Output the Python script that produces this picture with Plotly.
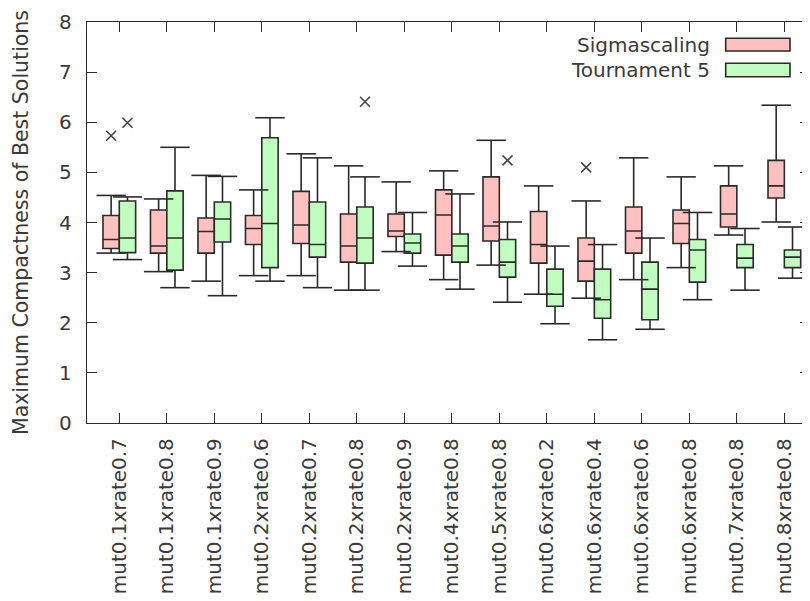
import plotly.graph_objects as go

categories = ["mut0.1xrate0.7", "mut0.1xrate0.8", "mut0.1xrate0.9", "mut0.2xrate0.6",
              "mut0.2xrate0.7", "mut0.2xrate0.8", "mut0.2xrate0.9", "mut0.4xrate0.8",
              "mut0.5xrate0.8", "mut0.6xrate0.2", "mut0.6xrate0.4", "mut0.6xrate0.6",
              "mut0.6xrate0.8", "mut0.7xrate0.8", "mut0.8xrate0.8"]

sig_low = [3.39, 3.02, 2.83, 2.94, 2.94, 2.65, 3.42, 2.86, 3.15, 2.57, 2.49, 2.86, 3.10, 3.75, 4.01]
sig_q1 = [3.48, 3.39, 3.39, 3.56, 3.58, 3.21, 3.72, 3.35, 3.63, 3.19, 2.83, 3.39, 3.58, 3.91, 4.49]
sig_med = [3.66, 3.53, 3.82, 3.88, 3.95, 3.53, 3.83, 4.15, 3.93, 3.56, 3.23, 3.83, 3.98, 4.17, 4.73]
sig_q3 = [4.14, 4.25, 4.09, 4.14, 4.62, 4.17, 4.17, 4.65, 4.91, 4.22, 3.69, 4.31, 4.25, 4.73, 5.24]
sig_high = [4.54, 4.47, 4.94, 4.65, 5.37, 5.13, 4.81, 5.03, 5.64, 4.73, 4.43, 5.29, 4.91, 5.13, 6.34]
sig_out_cat = [0, 10]
sig_out_val = [5.73, 5.10]

tour_low = [3.26, 2.70, 2.54, 2.83, 2.70, 2.65, 3.13, 2.67, 2.41, 1.98, 1.66, 1.87, 2.46, 2.65, 2.89]
tour_q1 = [3.40, 3.05, 3.61, 3.10, 3.31, 3.19, 3.39, 3.21, 2.91, 2.33, 2.09, 2.06, 2.81, 3.10, 3.10]
tour_med = [3.69, 3.69, 4.07, 3.98, 3.56, 3.69, 3.59, 3.53, 3.21, 2.57, 2.46, 2.67, 3.45, 3.29, 3.31]
tour_q3 = [4.43, 4.63, 4.41, 5.69, 4.41, 4.31, 3.77, 3.77, 3.66, 3.07, 3.07, 3.21, 3.66, 3.56, 3.45]
tour_high = [4.51, 5.50, 4.92, 6.09, 5.29, 4.91, 4.20, 4.57, 4.01, 3.53, 3.56, 3.69, 4.20, 3.88, 3.91]
tour_out_cat = [0, 5, 8]
tour_out_val = [5.99, 6.41, 5.24]

series_names = ["Sigmascaling", "Tournament 5"]

PINK = "#ffc0c0"
GREEN = "#c0ffc0"
EDGE = "#2a2a2a"
TXT = "#3a3a3a"
FONT = "DejaVu Sans"
OFF = 0.172
BW = 0.344

fig = go.Figure()

series = [
    (series_names[0], -OFF, PINK, sig_low, sig_q1, sig_med, sig_q3, sig_high, sig_out_cat, sig_out_val),
    (series_names[1], OFF, GREEN, tour_low, tour_q1, tour_med, tour_q3, tour_high, tour_out_cat, tour_out_val),
]

for name, off, col, lo, q1, md, q3, hi, oc, ov in series:
    xs = [i + off for i in range(len(categories))]
    fig.add_trace(go.Box(
        name=name, x=xs, q1=q1, median=md, q3=q3, lowerfence=lo, upperfence=hi,
        width=BW, fillcolor=col, line=dict(color=EDGE, width=1.6),
        whiskerwidth=0, boxpoints=False, showlegend=False, hoverinfo="skip",
    ))
    # whisker caps
    fig.add_trace(go.Scatter(
        x=xs + xs, y=lo + hi, mode="markers", showlegend=False, hoverinfo="skip",
        marker=dict(symbol="line-ew-open", size=21, color=EDGE,
                    line=dict(color=EDGE, width=1.6)),
    ))
    # outliers
    fig.add_trace(go.Scatter(
        x=[c + off for c in oc], y=ov, mode="markers", showlegend=False, hoverinfo="skip",
        marker=dict(symbol="x-thin-open", size=10, color="#444",
                    line=dict(color="#444", width=1.6)),
    ))

# empty trace for the right-side tick axis
fig.add_trace(go.Scatter(x=[], y=[], yaxis="y2", showlegend=False))

fig.update_layout(
    width=802, height=593,
    margin=dict(l=79, r=0, t=14, b=178, autoexpand=False),
    plot_bgcolor="white", paper_bgcolor="white",
    font=dict(family=FONT, size=20, color=TXT),
    xaxis=dict(
        range=[-0.68, 14.54], tickmode="array",
        tickvals=list(range(len(categories))), ticktext=categories,
        tickangle=-90, ticks="inside", ticklen=10, tickwidth=1.3, tickcolor=EDGE,
        showline=True, linecolor=EDGE, linewidth=1.3, mirror="ticks",
        showgrid=False, zeroline=False, ticklabelstandoff=6, automargin=False,
    ),
    yaxis=dict(
        range=[0, 8], dtick=1, tick0=0,
        ticks="inside", ticklen=10, tickwidth=1.3, tickcolor=EDGE,
        showline=True, linecolor=EDGE, linewidth=1.3,
        showgrid=False, zeroline=False, ticklabelstandoff=10, automargin=False,
        title=dict(text="Maximum Compactness of Best Solutions", standoff=24,
                   font=dict(size=20.5, color=TXT)),
    ),
    yaxis2=dict(
        overlaying="y", side="right", range=[0, 8], dtick=1, tick0=0,
        ticks="inside", ticklen=10, tickwidth=1.3, tickcolor=EDGE, automargin=False,
        showticklabels=False, showline=False, showgrid=False, zeroline=False,
    ),
)

# legend (text on the left, swatch on the right, as in the original)
legend_rows = [(0.9435, 0.9594, 0.9277, PINK), (0.8803, 0.8970, 0.8636, GREEN)]
for name, (yc, y0, y1, col) in zip(series_names, legend_rows):
    fig.add_annotation(x=0.865, y=yc, xref="paper", yref="paper", text=name,
                       showarrow=False, xanchor="right", yanchor="middle",
                       font=dict(size=20, color=TXT, family=FONT))
    fig.add_shape(type="rect", xref="paper", yref="paper", x0=0.8834, x1=0.9723,
                  y0=y1, y1=y0, fillcolor=col, line=dict(color=EDGE, width=1.6))

fig.write_html("out.html")
